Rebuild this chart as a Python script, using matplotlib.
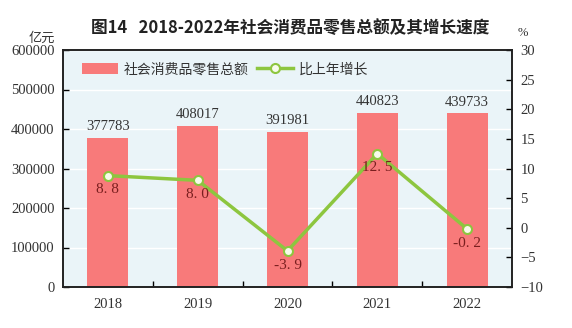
import matplotlib
matplotlib.use("Agg")
import matplotlib.pyplot as plt
from matplotlib.ticker import FixedLocator

years = ["2018", "2019", "2020", "2021", "2022"]
sales = [377783, 408017, 391981, 440823, 439733]
growth = [8.8, 8.0, -3.9, 12.5, -0.2]

plt.rcParams['font.family'] = ['Noto Sans CJK SC', 'DejaVu Sans']
serif = ['Liberation Serif', 'DejaVu Serif']

fig = plt.figure(figsize=(5.72, 3.28), dpi=100)
ax = fig.add_axes([63/572, 1-287/328, (512-63)/572, (287-50)/328])
ax.set_facecolor('#EAF4F8')
x = list(range(len(years)))
bars = ax.bar(x, sales, width=0.455, color='#F87A7A', zorder=2, label='社会消费品零售总额')
ax.set_xlim(-0.5, 4.5)
ax.set_ylim(0, 600000)
ax.set_yticks(range(0, 600001, 100000))
ax.yaxis.grid(True, color='white', linewidth=1.0, zorder=0)
ax.set_axisbelow(True)
ax.set_xticks(x)
ax.set_xticklabels(years, fontfamily=serif, fontsize=10.5, color='#333333')
ax.xaxis.set_minor_locator(FixedLocator([0.5, 1.5, 2.5, 3.5]))
ax.tick_params(axis='x', which='major', length=0, pad=8)
ax.tick_params(axis='x', which='minor', direction='in', length=4, width=1)
ax.tick_params(axis='y', direction='in', length=4, width=1, labelsize=10.5, labelcolor='#333333', pad=6)
for lab in ax.get_yticklabels():
    lab.set_fontfamily(serif)
for s in ax.spines.values():
    s.set_linewidth(1.2)
    s.set_color('#222222')

for xi, v in zip(x, sales):
    ax.text(xi, v + 12000, str(v), ha='center', va='bottom', fontsize=10.5,
            fontfamily=serif, color='#333333')

ax2 = ax.twinx()
ax2.set_ylim(-10, 30)
ax2.set_yticks(range(-10, 31, 5))
ax2.set_yticklabels([("−" + str(-t)) if t < 0 else str(t) for t in range(-10, 31, 5)],
                    fontfamily=serif, fontsize=10.5, color='#333333')
ax2.tick_params(axis='y', direction='in', length=4, width=1, pad=6)
for s in ax2.spines.values():
    s.set_linewidth(1.2)
    s.set_color('#222222')
line, = ax2.plot(x, growth, color='#8DC63F', linewidth=2.5, marker='o', markersize=6.5,
                 markerfacecolor='#F7FBEA', markeredgecolor='#8DC63F', markeredgewidth=1.5,
                 zorder=3, label='比上年增长')
for xi, g in zip(x, growth):
    ax2.text(xi, g - 1.3, f"{g:.1f}".replace('.', '. '), ha='center', va='top', fontsize=11,
             fontfamily=serif, color='#7A1F1F')

leg = ax.legend([bars, line], ['社会消费品零售总额', '比上年增长'], loc='upper left',
                bbox_to_anchor=(0.015, 1.0), ncol=2, frameon=False, fontsize=10,
                handlelength=2.6, handleheight=0.8, columnspacing=0.6, handletextpad=0.4,
                borderaxespad=0.5)
for t in leg.get_texts():
    t.set_color('#333333')

fig.text(290/572, 1-28/328, '图14   2018-2022年社会消费品零售总额及其增长速度', ha='center', va='center',
         fontsize=12, fontweight='bold', color='#222222')
fig.text(42/572, 1-38/328, '亿元', ha='center', va='center', fontsize=9.5, color='#333333')
fig.text(523/572, 1-33/328, '%', ha='center', va='center', fontsize=9, color='#333333',
         fontfamily=serif)

fig.savefig('out.png', dpi=100)
